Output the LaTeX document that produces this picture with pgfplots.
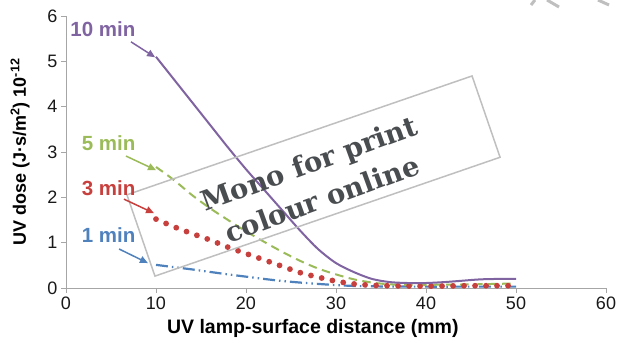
\documentclass[border=0pt]{standalone}
\usepackage{fontspec}
\setmainfont{Liberation Sans}
\newfontfamily\wmfont{DejaVu Serif}
\usepackage{pgfplots}
\pgfplotsset{compat=1.18}
\usetikzlibrary{arrows.meta}
\definecolor{cpurple}{HTML}{8064A2}
\definecolor{cgreen}{HTML}{9BBB59}
\definecolor{cred}{HTML}{C8403D}
\definecolor{cblue}{HTML}{4F81BD}
\definecolor{axgray}{HTML}{A6A6A6}
\definecolor{wmgray}{HTML}{BFBFBF}
\definecolor{wmtext}{HTML}{4A4D50}
\begin{document}
\begin{tikzpicture}
\useasboundingbox (0,0) rectangle (617pt,345pt);
\begin{axis}[
 at={(66pt,57pt)}, anchor=south west,
 scale only axis, width=540pt, height=272pt,
 xmin=0,xmax=60,ymin=0,ymax=6,
 xtick={0,10,...,60}, ytick={0,1,...,6},
 axis lines=left,
 axis line style={-, axgray, line width=1pt},
 tick style={axgray, line width=1pt},
 major tick length=5pt,
 tick align=outside,
 /pgf/number format/assume math mode=true,
 tick label style={font=\fontsize{18}{20}\selectfont, text=black!90},
 xlabel={UV lamp-surface distance (mm)},
 ylabel={UV dose (J·s/m\textsuperscript{2}) 10\textsuperscript{-12}},
 xlabel style={font=\bfseries\fontsize{19.5}{21}\selectfont, at={(axis description cs:0.457,-0.147)}, anchor=center},
 ylabel style={font=\bfseries\fontsize{18}{20}\selectfont, at={(axis description cs:-0.085,0.5)}, anchor=center},
 clip=false,
]
% 1 min
\addplot[cblue, line width=2.2pt, smooth, dash pattern=on 12pt off 4pt on 1.5pt off 4pt on 1.5pt off 4pt] coordinates {
(10,0.51) (12,0.46) (14,0.41) (16,0.355) (18,0.30) (20,0.25) (22,0.20) (24,0.155) (26,0.12) (28,0.09) (30,0.065) (32,0.045) (35,0.035) (40,0.03) (45,0.03) (50,0.03)};
% 5 min
\addplot[cgreen, line width=2pt, smooth, dash pattern=on 8.5pt off 5.5pt] coordinates {
(10,2.67) (12,2.38) (14,2.05) (16,1.76) (18,1.50) (20,1.25) (22,1.02) (24,0.80) (26,0.60) (28,0.43) (30,0.30) (32,0.19) (34,0.12) (36,0.08) (38,0.07) (40,0.07) (45,0.08) (50,0.10)};
% 3 min
\addplot[cred, line width=5.8pt, line cap=round, smooth, dash pattern=on 0pt off 11pt] coordinates {
(10,1.52) (12,1.35) (14,1.20) (16,1.06) (18,0.90) (20,0.76) (22,0.62) (24,0.48) (26,0.34) (28,0.24) (30,0.15) (32,0.09) (34,0.06) (36,0.05) (40,0.04) (45,0.05) (50,0.05)};
% 10 min
\addplot[cpurple, line width=2pt, smooth] coordinates {
(10,5.10) (12,4.60) (14,4.10) (16,3.60) (18,3.10) (20,2.62) (22,2.17) (24,1.72) (26,1.27) (28,0.86) (30,0.55) (32,0.35) (34,0.20) (36,0.13) (38,0.11) (40,0.11) (42,0.13) (44,0.16) (46,0.19) (48,0.20) (50,0.20)};

% watermark
\node[draw=wmgray, line width=1.5pt, minimum width=365pt, minimum height=86pt, rotate=19, inner sep=0pt] at (axis cs:27.5,2.47) {};
\node[rotate=20, text=wmtext, font=\wmfont\bfseries\fontsize{27.5}{38}\selectfont, align=center] at (axis cs:27.7,2.36) {Mono for print\\colour online};

% labels and arrows
\node[anchor=east, text=cpurple, font=\bfseries\fontsize{20.5}{22}\selectfont] at (axis cs:8.1,5.71) {10 min};
\node[anchor=east, text=cgreen, font=\bfseries\fontsize{20.5}{22}\selectfont] at (axis cs:8.1,3.20) {5 min};
\node[anchor=east, text=cred, font=\bfseries\fontsize{20.5}{22}\selectfont] at (axis cs:8.1,2.20) {3 min};
\node[anchor=east, text=cblue, font=\bfseries\fontsize{20.5}{22}\selectfont] at (axis cs:8.1,1.16) {1 min};
\draw[cpurple, line width=1.5pt, -{Triangle[length=8pt,width=7pt]}] (axis cs:7.22,5.43) -- (axis cs:9.9,5.09);
\draw[cgreen, line width=1.5pt, -{Triangle[length=8pt,width=7pt]}] (axis cs:6.67,2.91) -- (axis cs:10.0,2.60);
\draw[cred, line width=1.5pt, -{Triangle[length=8pt,width=7pt]}] (axis cs:6.44,1.96) -- (axis cs:9.78,1.65);
\draw[cblue, line width=1.5pt, -{Triangle[length=8pt,width=7pt]}] (axis cs:5.9,0.86) -- (axis cs:9.1,0.55);
\end{axis}
\draw[wmgray, line width=3pt] (535pt,345pt) -- (531pt,340pt);
\draw[wmgray, line width=3pt] (547pt,345pt) -- (559pt,338pt);
\draw[wmgray, line width=3pt] (598pt,345pt) -- (609pt,340pt);
\end{tikzpicture}
\end{document}
